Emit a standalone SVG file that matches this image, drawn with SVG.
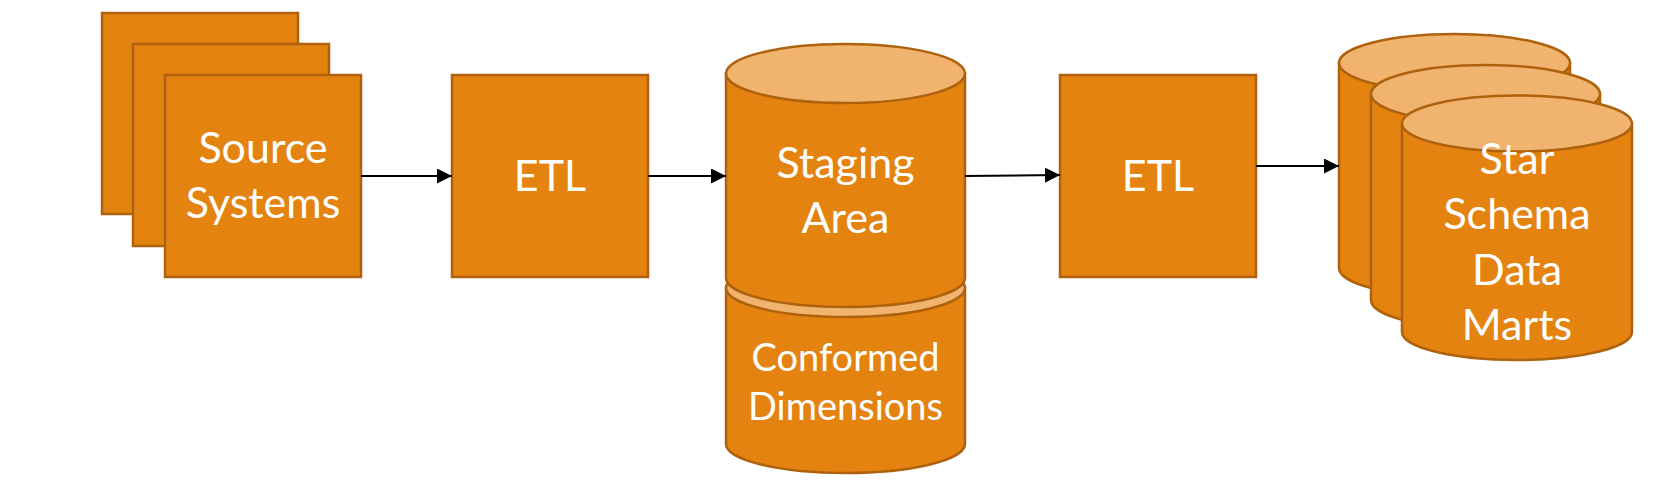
<svg xmlns="http://www.w3.org/2000/svg" width="1668" height="490" viewBox="0 0 1668 490">
<style>
.box{fill:#E4830F;stroke:#AE620D;stroke-width:2.5}
.top{fill:#F0B46F;stroke:#AE620D;stroke-width:2.5}
.lbl{font-family:Lato,"Open Sans",sans-serif;fill:#FFFFFF;text-anchor:middle;font-size:43px}
.sm{font-size:38px}
.conn{stroke:#000;stroke-width:2;fill:none;marker-end:url(#ah)}
</style>
<defs>
<marker id="ah" viewBox="0 0 15 15" refX="15" refY="7.5" markerWidth="15" markerHeight="15" markerUnits="userSpaceOnUse" orient="auto">
<path d="M0,0 L15,7.5 L0,15 Z" fill="#000"/>
</marker>
</defs>
<rect width="1668" height="490" fill="#FFFFFF"/>
<g id="source-systems">
<rect class="box" x="102" y="13" width="196" height="201"/>
<rect class="box" x="133" y="44" width="196" height="202"/>
<rect class="box" x="165" y="75" width="196" height="202"/>
<text class="lbl" x="263" y="163">Source</text>
<text class="lbl" x="263" y="218">Systems</text>
</g>
<g id="etl1">
<rect class="box" x="452" y="75" width="196" height="202"/>
<text class="lbl" x="550" y="191">ETL</text>
</g>
<g id="conformed-dimensions">
<path class="box" d="M726,288 V444 A119.5,29 0 0 0 965,444 V288 Z"/>
<ellipse class="top" cx="845.5" cy="288" rx="119.5" ry="29"/>
<text class="lbl sm" x="845.5" y="371">Conformed</text>
<text class="lbl sm" x="845.5" y="420">Dimensions</text>
</g>
<g id="staging-area">
<path class="box" d="M726,73.5 V278 A119.5,29 0 0 0 965,278 V73.5 Z"/>
<ellipse class="top" cx="845.5" cy="73.5" rx="119.5" ry="29.5"/>
<text class="lbl" x="845.5" y="178">Staging</text>
<text class="lbl" x="845.5" y="233">Area</text>
</g>
<g id="etl2">
<rect class="box" x="1060" y="75" width="196" height="202"/>
<text class="lbl" x="1158" y="191">ETL</text>
</g>
<g id="data-marts">
<path class="box" d="M1339,63 V268 A115.5,29 0 0 0 1570,268 V63 Z"/>
<ellipse class="top" cx="1454.5" cy="63" rx="115.5" ry="29"/>
<path class="box" d="M1371,94 V300 A114.5,29 0 0 0 1600,300 V94 Z"/>
<ellipse class="top" cx="1485.5" cy="94" rx="114.5" ry="29"/>
<path class="box" d="M1402,123.5 V332 A115,28 0 0 0 1632,332 V123.5 Z"/>
<ellipse class="top" cx="1517" cy="123.5" rx="115" ry="28"/>
<text class="lbl" x="1517" y="174">Star</text>
<text class="lbl" x="1517" y="229">Schema</text>
<text class="lbl" x="1517" y="285">Data</text>
<text class="lbl" x="1517" y="340">Marts</text>
</g>
<g id="connectors">
<path class="conn" d="M361,176 H452"/>
<path class="conn" d="M648,176 H726"/>
<path class="conn" d="M965,176 L1060,175"/>
<path class="conn" d="M1256,166 H1339"/>
</g>
</svg>
